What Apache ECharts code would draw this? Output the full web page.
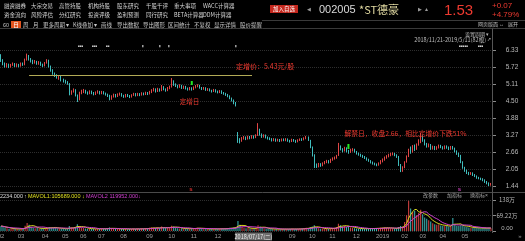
<!DOCTYPE html>
<html><head><meta charset="utf-8">
<script src="https://cdn.jsdelivr.net/npm/echarts@6/dist/echarts.min.js"></script>
<style>html,body{margin:0;padding:0;background:#000;overflow:hidden}#c{width:525px;height:241px}</style>
</head><body><div id="c"></div>
<script>
// ---- data ----
const priceTickLabels = ['1.44','2.05','2.66','3.27','3.88','4.50','5.11','5.72','6.33'];
const priceMin = 1.44, priceMax = 6.33;
const volTickLabels = ['0.00','69.22万','138万'];
const volMax = 138.44; // 万
const monthLabels = ['02','03','04','05','06','07','08','09','10','11','12','09','10','11','12','2019','02','03','04','05'];
const monthStart  = [0,10,22,32,41,50,61,74,85,96,108,145,155,165,177,190,201,210,220,231];
const placementPrice = 5.43;
// [open, close, low, high]
const ohlc = [
[6.12,5.96,5.90,6.18],[5.96,5.84,5.78,6.00],[5.84,5.76,5.70,5.88],[5.74,5.80,5.70,5.86],[5.80,5.72,5.68,5.84],[5.72,5.79,5.70,5.83],[5.79,5.84,5.76,5.88],[5.84,5.76,5.72,5.86],[5.76,5.81,5.72,5.85],[5.81,5.75,5.71,5.83],[5.75,5.84,5.73,5.88],[5.84,5.80,5.76,5.88],
[5.80,5.98,5.78,6.02],[5.98,6.12,5.95,6.20],[6.12,6.00,5.95,6.15],[6.00,5.94,5.88,6.04],[5.94,5.86,5.82,5.98],[5.86,5.92,5.84,5.97],[5.92,5.84,5.80,5.94],[5.84,5.89,5.80,5.93],[5.89,5.80,5.76,5.91],[5.80,5.76,5.72,5.84],[5.76,5.86,5.74,5.90],[5.86,5.96,5.84,6.00],
[5.96,5.74,5.70,5.98],[5.74,5.60,5.55,5.77],[5.60,5.48,5.44,5.64],[5.48,5.42,5.36,5.52],[5.42,5.35,5.30,5.46],[5.35,5.38,5.26,5.42],[5.38,5.26,5.20,5.40],[5.26,5.22,5.16,5.30],[5.22,5.17,5.12,5.26],[5.17,5.12,5.08,5.21],
[5.12,4.76,4.70,5.14],[4.76,4.84,4.72,4.88],[4.84,4.90,4.80,4.95],[4.90,4.70,4.66,4.92],[4.70,4.54,4.46,4.73],[4.54,4.78,4.52,4.83],
[4.78,4.84,4.74,4.90],[4.84,4.88,4.78,4.93],[4.88,4.80,4.76,4.90],[4.80,4.76,4.72,4.84],[4.76,4.84,4.74,4.88],[4.84,4.79,4.74,4.87],[4.79,4.74,4.70,4.82],[4.74,4.80,4.71,4.84],[4.80,4.84,4.76,4.88],[4.84,4.77,4.73,4.86],[4.77,4.82,4.74,4.86],[4.82,4.77,4.73,4.85],[4.77,4.73,4.69,4.80],[4.73,4.70,4.64,4.76],
[4.70,4.56,4.52,4.72],[4.56,4.66,4.54,4.70],
[4.66,4.72,4.62,4.76],[4.72,4.66,4.62,4.75],[4.66,4.73,4.64,4.77],[4.73,4.76,4.69,4.80],[4.76,4.69,4.65,4.78],[4.69,4.65,4.61,4.72],[4.65,4.72,4.62,4.75],[4.72,4.68,4.64,4.75],[4.68,4.64,4.60,4.71],[4.64,4.71,4.62,4.74],[4.71,4.75,4.68,4.79],[4.75,4.70,4.66,4.78],[4.70,4.75,4.67,4.79],[4.75,4.71,4.67,4.78],[4.71,4.77,4.69,4.81],[4.77,4.73,4.70,4.80],[4.73,4.79,4.71,4.83],[4.79,4.75,4.71,4.82],[4.75,4.82,4.73,4.86],
[4.82,4.88,4.78,4.92],[4.88,4.93,4.84,4.97],[4.93,4.84,4.80,4.95],[4.84,4.93,4.82,4.97],[4.93,4.87,4.83,4.95],[4.87,5.01,4.85,5.07],[5.01,4.92,4.88,5.03],[4.92,4.87,4.83,4.95],[4.87,4.96,4.85,5.00],[4.96,5.00,4.92,5.05],
[5.00,5.20,4.98,5.32],[5.20,5.10,5.04,5.24],[5.10,5.04,5.00,5.13],[5.04,5.00,4.95,5.08],[5.00,5.06,4.97,5.10],[5.06,4.97,4.93,5.08],[4.97,5.01,4.93,5.05],[5.01,4.95,4.91,5.04],[4.95,4.91,4.87,4.98],[4.91,4.96,4.88,5.00],[4.96,4.91,4.87,4.99],[4.91,4.98,4.89,5.02],[4.98,5.03,4.95,5.07],[5.03,5.06,4.99,5.10],[5.06,4.97,4.94,5.08],
[4.97,4.93,4.89,5.00],[4.93,4.97,4.90,5.00],[4.97,4.89,4.86,4.99],[4.89,4.93,4.86,4.96],[4.93,4.87,4.84,4.95],[4.87,4.84,4.80,4.90],[4.84,4.90,4.82,4.93],[4.90,4.84,4.80,4.92],[4.84,4.81,4.77,4.87],[4.81,4.86,4.78,4.89],[4.86,4.79,4.75,4.88],[4.79,4.76,4.72,4.82],[4.76,4.72,4.68,4.79],[4.72,4.68,4.63,4.75],[4.68,4.60,4.56,4.70],[4.60,4.53,4.48,4.62],[4.53,4.44,4.38,4.55],[4.44,4.36,4.30,4.46],
[3.32,3.12,2.99,3.38],[3.12,3.06,2.97,3.16],[3.06,3.16,3.03,3.20],[3.16,3.20,3.11,3.24],[3.20,3.13,3.09,3.22],[3.13,3.21,3.11,3.25],[3.21,3.16,3.12,3.24],[3.16,3.23,3.14,3.27],[3.23,3.18,3.14,3.26],[3.18,3.26,3.16,3.30],[3.26,3.46,3.24,3.70],[3.46,3.30,3.25,3.50],[3.30,3.21,3.17,3.33],[3.21,3.27,3.18,3.30],[3.27,3.19,3.15,3.29],[3.19,3.16,3.11,3.22],[3.16,3.13,3.09,3.19],
[3.13,3.08,3.04,3.16],[3.08,3.13,3.05,3.16],[3.13,3.07,3.03,3.15],[3.07,3.11,3.04,3.14],[3.11,3.06,3.02,3.13],[3.06,3.12,3.04,3.15],[3.12,3.08,3.05,3.15],[3.08,3.13,3.05,3.16],[3.13,3.07,3.03,3.15],[3.07,3.04,3.00,3.10],[3.04,3.11,3.02,3.14],[3.11,3.07,3.03,3.13],[3.07,3.03,2.99,3.10],[3.03,3.09,3.01,3.12],[3.09,3.12,3.06,3.15],[3.12,3.10,3.06,3.16],[3.10,3.16,3.08,3.19],[3.16,3.20,3.12,3.24],[3.20,3.10,3.06,3.22],
[3.08,2.84,2.80,3.10],[2.84,2.55,2.50,2.86],[2.55,2.20,2.09,2.58],[2.20,2.14,2.09,2.25],[2.14,2.23,2.11,2.27],[2.23,2.17,2.13,2.26],[2.17,2.26,2.15,2.29],[2.26,2.30,2.22,2.34],[2.30,2.34,2.26,2.38],[2.34,2.29,2.25,2.37],[2.29,2.38,2.27,2.42],[2.38,2.43,2.35,2.47],[2.43,2.46,2.39,2.50],[2.46,2.52,2.42,2.56],
[2.54,2.86,2.52,2.99],[2.86,2.77,2.72,2.90],[2.77,2.70,2.65,2.80],[2.70,2.81,2.68,2.85],[2.81,2.69,2.65,2.83],[2.69,2.66,2.60,2.74],[2.66,2.73,2.63,2.78],[2.73,2.76,2.68,2.80],[2.76,2.67,2.64,2.78],[2.67,2.61,2.57,2.70],[2.61,2.57,2.53,2.64],[2.57,2.53,2.49,2.60],[2.53,2.49,2.45,2.56],[2.49,2.45,2.41,2.52],[2.45,2.39,2.35,2.47],[2.39,2.35,2.31,2.42],[2.35,2.29,2.25,2.37],[2.29,2.25,2.21,2.32],[2.25,2.21,2.18,2.28],[2.21,2.19,2.15,2.25],[2.19,2.25,2.17,2.29],
[2.25,2.33,2.22,2.37],[2.33,2.39,2.29,2.43],[2.39,2.46,2.35,2.50],[2.46,2.51,2.42,2.55],[2.51,2.55,2.47,2.60],[2.55,2.59,2.51,2.63],[2.59,2.61,2.54,2.65],[2.61,2.55,2.51,2.63],[2.55,2.49,2.45,2.58],[2.49,2.20,2.16,2.52],[2.20,1.98,1.94,2.23],[1.98,2.11,1.95,2.15],
[2.11,2.31,2.08,2.33],[2.31,2.52,2.28,2.54],[2.52,2.76,2.48,2.78],[2.76,2.68,2.60,2.86],[2.68,2.86,2.64,2.91],[2.86,2.77,2.70,2.93],[2.77,2.93,2.74,2.97],[2.93,3.06,2.89,3.12],[3.06,3.20,2.98,3.35],[3.20,3.09,3.03,3.26],[3.09,2.94,2.90,3.12],[2.94,2.87,2.82,2.99],[2.87,2.93,2.83,2.97],[2.93,2.79,2.74,2.95],[2.79,2.86,2.75,2.89],[2.86,2.77,2.73,2.88],[2.77,2.83,2.74,2.87],[2.83,2.89,2.79,2.93],[2.89,2.84,2.80,2.92],[2.84,2.79,2.75,2.87],[2.79,2.87,2.76,2.90],[2.87,2.82,2.78,2.90],[2.82,2.77,2.73,2.86],[2.77,2.85,2.74,2.88],[2.85,2.80,2.75,2.88],
[2.80,2.69,2.65,2.82],[2.69,2.61,2.56,2.72],[2.61,2.53,2.48,2.64],[2.53,2.30,2.26,2.56],[2.30,2.10,2.06,2.33],[2.10,1.99,1.95,2.13],[1.99,1.91,1.87,2.03],[1.91,1.87,1.83,1.95],[1.87,1.91,1.84,1.94],[1.91,1.84,1.80,1.93],[1.84,1.79,1.76,1.87],[1.79,1.74,1.70,1.82],[1.74,1.71,1.68,1.77],[1.71,1.69,1.65,1.74],[1.69,1.65,1.61,1.72],[1.65,1.59,1.55,1.68],[1.59,1.54,1.50,1.62],[1.54,1.46,1.44,1.57],[1.46,1.53,1.45,1.55]
];
// volume, 万
const volumes = [
22,20,14,12,10,11,9,10,9,8,12,10,
24,36,28,18,14,12,13,10,11,12,11,16,
18,16,14,15,12,11,10,10,9,10,
22,16,14,18,30,22,
14,13,11,10,11,9,10,9,10,9,11,10,10,11,
16,12,
10,9,9,10,9,9,10,8,9,9,10,9,10,9,11,10,12,11,14,
16,15,13,14,12,20,16,13,14,15,
24,20,14,12,11,12,10,10,11,10,12,11,13,15,12,
10,9,10,9,9,10,9,10,9,10,11,10,11,12,14,15,16,18,
45,28,18,14,12,13,11,12,10,14,26,20,14,11,10,10,9,
10,8,9,8,8,9,8,9,8,9,10,8,9,9,10,11,12,14,13,
18,20,26,16,12,10,11,10,11,9,12,13,14,18,
32,26,20,22,18,24,16,14,12,11,10,10,11,10,11,10,12,11,12,13,12,
14,15,16,14,13,12,12,11,12,18,22,20,
40,70,135,100,85,90,70,80,95,75,60,55,48,42,35,30,28,30,25,22,24,22,20,22,58,
30,24,22,26,24,20,18,16,15,14,15,14,13,12,13,14,12,14,12
];
// annotation anchors (candle index)
const placementDay = 95, unlockDay = 173;

// ---- styles ----
const UP = '#e04646', DOWN = '#3fbcbc', RED = '#ee3a30';
const CJK = '"Noto Sans CJK SC", sans-serif';
const LAT = '"Liberation Sans", Arial, sans-serif';

const categories = ohlc.map((_, i) => String(i));
const monthAt = {};
monthStart.forEach((s, k) => { monthAt[s] = monthLabels[k]; });

function movingAvg(arr, n) {
  return arr.map((_, i) => {
    const s = Math.max(0, i - n + 1); let t = 0;
    for (let j = s; j <= i; j++) t += arr[j];
    return +(t / (i - s + 1)).toFixed(2);
  });
}

function T(x, y, text, o) {
  return { type: 'text', x: x, y: y, silent: true, z: 100,
    style: Object.assign({ text: text, fill: '#cfcfcf', fontSize: 5.5, fontFamily: CJK, align: 'left', verticalAlign: 'middle' }, o || {}) };
}
function L(x1, y1, x2, y2, c) {
  return { type: 'line', silent: true, z: 90, shape: { x1: x1, y1: y1, x2: x2, y2: y2 }, style: { stroke: c || '#3e3e3e', lineWidth: 1 } };
}
function R(x, y, w, h, c) {
  return { type: 'rect', silent: true, z: 95, shape: { x: x, y: y, width: w, height: h }, style: { fill: c } };
}

const menu1 = [[4,'融资融券'],[31,'大宗交易'],[59,'高管持股'],[88,'机构持股'],[117,'股东研究'],[146,'千股千评'],[174,'重大事项'],[203,'WACC计算器']];
const menu2 = [[4,'资金流向'],[31,'风险评估'],[59,'分红研究'],[88,'投资评级'],[117,'盈利预测'],[146,'同行研究'],[174,'BETA计算器'],[203,'DDM计算器']];
const tools = [[3,'60'],[23,'周'],[33,'月'],[43,'更多周期 ▾'],[73,'K线叠加 ▾'],[101,'画线'],[117,'导出数据'],[143,'导出图形'],[168,'区间统计'],[194,'不复权'],[214,'显示详情'],[240,'股价提醒']];

const graphic = [];
menu1.forEach(m => graphic.push(T(m[0], 5.5, m[1], { fill: '#d6d6d6' })));
menu2.forEach(m => graphic.push(T(m[0], 14.5, m[1], { fill: '#d6d6d6' })));
tools.forEach(m => graphic.push(T(m[0], 24.5, m[1], { fill: '#c8c8c8' })));
graphic.push(R(11, 21, 10, 7, '#e2541e'));
graphic.push(T(16, 24.5, '日', { fill: '#ffffff', align: 'center', fontSize: 6 }));
// header right
graphic.push(R(270, 5, 28, 8, '#c4281e'));
graphic.push(T(284, 9, '加入自选', { fill: '#ffffff', align: 'center', fontSize: 5.5 }));
graphic.push(T(307, 9.5, '◀', { fill: '#9a9a9a', fontSize: 5, fontFamily: LAT }));
graphic.push(T(319, 9.5, '002005', { fill: '#dadada', fontSize: 11, fontFamily: LAT }));
graphic.push(T(359, 9.5, '*ST德豪', { fill: '#e2daa2', fontSize: 11, fontFamily: CJK }));
graphic.push(T(418, 9.5, '▶', { fill: '#9a9a9a', fontSize: 5, fontFamily: LAT }));
graphic.push(T(425, 9.5, '▴', { fill: '#9a9a9a', fontSize: 6, fontFamily: LAT }));
graphic.push(T(444, 10.5, '1.53', { fill: RED, fontSize: 15, fontFamily: LAT }));
graphic.push(T(492, 6, '+0.07', { fill: RED, fontSize: 8, fontFamily: LAT }));
graphic.push(T(492, 14.5, '+4.79%', { fill: RED, fontSize: 8, fontFamily: LAT }));
graphic.push(T(478, 24.5, '网页版面', { fill: '#bdbdbd', fontSize: 5 }));
graphic.push(T(499, 24.5, '↔', { fill: '#bdbdbd', fontSize: 5, fontFamily: LAT }));
graphic.push(T(508, 24.5, '展开', { fill: '#bdbdbd', fontSize: 5 }));
graphic.push(T(489, 34, '设置周期 ▾', { fill: '#bdbdbd', fontSize: 5, align: 'right' }));
graphic.push(T(486, 39.5, '2018/11/21-2019/5/11(82根)', { fill: '#bdbdbd', fontSize: 5.5, align: 'right' }));
graphic.push(T(487, 39.5, '↗', { fill: '#bdbdbd', fontSize: 4.5, fontFamily: LAT }));
graphic.push(T(459, 46, '■■■■■', { fill: '#d8d8d8', fontSize: 3, fontFamily: LAT }));
graphic.push(T(478, 46, '■■■', { fill: '#d8d8d8', fontSize: 3, fontFamily: LAT }));
// info marks row
[[78,'■■■'],[92,'■■■'],[106,'■■'],[141.5,'▮'],[158.5,'▮'],[167.5,'▮'],[234.5,'▮']].forEach(m =>
  graphic.push(T(m[0], 46, m[1], { fill: '#d0d0d0', fontSize: 3, fontFamily: LAT })));
// separators
graphic.push(L(262, 20.5, 525, 20.5, '#3a3a3a'));
graphic.push(L(0, 28.5, 525, 28.5, '#3a3a3a'));
graphic.push(L(0, 192.5, 525, 192.5, '#4a4a4a'));
graphic.push(L(492.5, 28.5, 492.5, 233, '#555555'));
// bottom small marks
graphic.push(T(191, 189.5, 's', { fill: '#e03030', fontSize: 6, fontFamily: LAT, fontWeight: 'bold', align: 'center' }));
graphic.push(T(459.5, 189, 's', { fill: '#d040c0', fontSize: 6, fontFamily: LAT, fontWeight: 'bold', align: 'center' }));
// volume legend
graphic.push(T(0, 196, '2234.000', { fill: '#dcdcdc', fontFamily: LAT }));
graphic.push(T(24, 196, '↑', { fill: '#dcdcdc', fontFamily: LAT }));
graphic.push(T(28, 196, 'MAVOL1:105689.000', { fill: '#e0e020', fontFamily: LAT }));
graphic.push(T(82, 196, '↓', { fill: '#e0e020', fontFamily: LAT }));
graphic.push(T(86, 196, 'MAVOL2 119952.000', { fill: '#d040d0', fontFamily: LAT }));
graphic.push(T(138, 196, '↓', { fill: '#d040d0', fontFamily: LAT }));
graphic.push(T(423, 195.5, '改参数', { fill: '#a8a8a8', fontSize: 5 }));
graphic.push(T(447, 195.5, '加指标', { fill: '#a8a8a8', fontSize: 5 }));
graphic.push(T(470, 195.5, '换指标', { fill: '#a8a8a8', fontSize: 5 }));
graphic.push(T(485, 195.5, '×', { fill: '#a8a8a8', fontSize: 5, fontFamily: LAT }));
// crosshair date box on x axis
graphic.push(R(235, 232.5, 37, 8, '#6c6c6c'));
graphic.push(T(253.5, 236.5, '2018/07/17(二)', { fill: '#eeeeee', fontSize: 5.5, align: 'center' }));
graphic.push(T(520, 236.5, '»', { fill: '#8a8a8a', fontSize: 6, fontFamily: LAT, align: 'center' }));

const volData = volumes.map((v, i) => ({ value: v, itemStyle: { color: ohlc[i][1] >= ohlc[i][0] ? UP : DOWN } }));

const chart = echarts.init(document.getElementById('c'), null, { renderer: 'canvas' });
chart.setOption({
  backgroundColor: '#000000',
  animation: false,
  grid: [
    { left: 0, right: 33, top: 50, height: 136, outerBoundsMode: 'none', containLabel: false },
    { left: 0, right: 33, top: 200, height: 31, outerBoundsMode: 'none', containLabel: false }
  ],
  xAxis: [
    { type: 'category', gridIndex: 0, data: categories, boundaryGap: true,
      axisLine: { show: false }, axisTick: { show: false }, axisLabel: { show: false }, splitLine: { show: false } },
    { type: 'category', gridIndex: 1, data: categories, boundaryGap: true,
      axisLine: { show: false }, axisTick: { show: false }, splitLine: { show: false },
      axisLabel: { show: true, interval: (idx) => monthAt[idx] !== undefined, formatter: (v, idx) => monthAt[idx] || '',
        color: '#9c9c9c', fontSize: 6, fontFamily: LAT, margin: 2 } }
  ],
  yAxis: [
    { type: 'value', gridIndex: 0, min: priceMin, max: priceMax, show: false, splitLine: { show: false } },
    { type: 'value', gridIndex: 0, position: 'right', min: 0, max: priceTickLabels.length - 1, interval: 1,
      axisLine: { show: true, lineStyle: { color: '#555555' } },
      axisTick: { show: true, length: 4, lineStyle: { color: '#8a8a8a' } },
      axisLabel: { formatter: (v) => priceTickLabels[Math.round(v)] || '', color: '#b8b8b8', fontSize: 6.5, fontFamily: LAT, align: 'center', margin: 20 },
      splitLine: { show: true, lineStyle: { color: '#2e2e2e', type: 'dotted' } } },
    { type: 'value', gridIndex: 1, position: 'right', min: 0, max: volMax, interval: volMax / 2,
      axisLine: { show: true, lineStyle: { color: '#555555' } },
      axisTick: { show: true, length: 4, lineStyle: { color: '#8a8a8a' } },
      axisLabel: { formatter: (v) => { const k = Math.round(v / (volMax / 2)); return k === 0 ? '{lo|' + volTickLabels[0] + '}' : (volTickLabels[k] || ''); },
        color: '#b8b8b8', fontSize: 6, fontFamily: CJK, align: 'center', margin: 15,
        rich: { lo: { color: '#b8b8b8', fontSize: 6, fontFamily: LAT, padding: [0, 0, 6, 0] } } },
      splitLine: { show: true, lineStyle: { color: '#2e2e2e', type: 'dotted' } } }
  ],
  series: [
    { type: 'candlestick', xAxisIndex: 0, yAxisIndex: 0, data: ohlc, barWidth: 1,
      itemStyle: { color: UP, color0: DOWN, borderColor: UP, borderColor0: DOWN, borderWidth: 1 },
      markLine: { silent: true, symbol: ['none', 'none'], label: { show: false },
        lineStyle: { color: '#b2aa56', width: 1, type: 'solid' },
        data: [[{ coord: [14, placementPrice] }, { coord: [125, placementPrice] }]] },
      markPoint: { silent: true, data: [
        { coord: [117, 5.755], symbol: 'rect', symbolSize: 0,
          label: { show: true, position: 'right', distance: 0, formatter: '定增价：5.43元/股', color: RED, fontSize: 7, fontFamily: CJK } },
        { coord: [89, 4.478], symbol: 'rect', symbolSize: 0,
          label: { show: true, position: 'right', distance: 0, formatter: '定增日', color: RED, fontSize: 6.5, fontFamily: CJK } },
        { coord: [171, 3.346], symbol: 'rect', symbolSize: 0,
          label: { show: true, position: 'right', distance: 0, formatter: '解禁日，收盘2.66，相比定增价下跌51%', color: RED, fontSize: 6.8, fontFamily: CJK } },
        { coord: [placementDay, 5.143], symbol: 'rect', symbolSize: [2, 4], itemStyle: { color: '#22e622' }, label: { show: false } },
        { coord: [unlockDay, 2.86], symbol: 'rect', symbolSize: [2, 5], itemStyle: { color: '#22e622' }, label: { show: false } }
      ] } },
    { type: 'bar', xAxisIndex: 1, yAxisIndex: 2, data: volData, barWidth: 1 },
    { type: 'line', xAxisIndex: 1, yAxisIndex: 2, data: movingAvg(volumes, 5), symbol: 'none', lineStyle: { color: '#d8d820', width: 1 } },
    { type: 'line', xAxisIndex: 1, yAxisIndex: 2, data: movingAvg(volumes, 10), symbol: 'none', lineStyle: { color: '#d040d0', width: 1 } }
  ],
  graphic: graphic
});
</script></body></html>
